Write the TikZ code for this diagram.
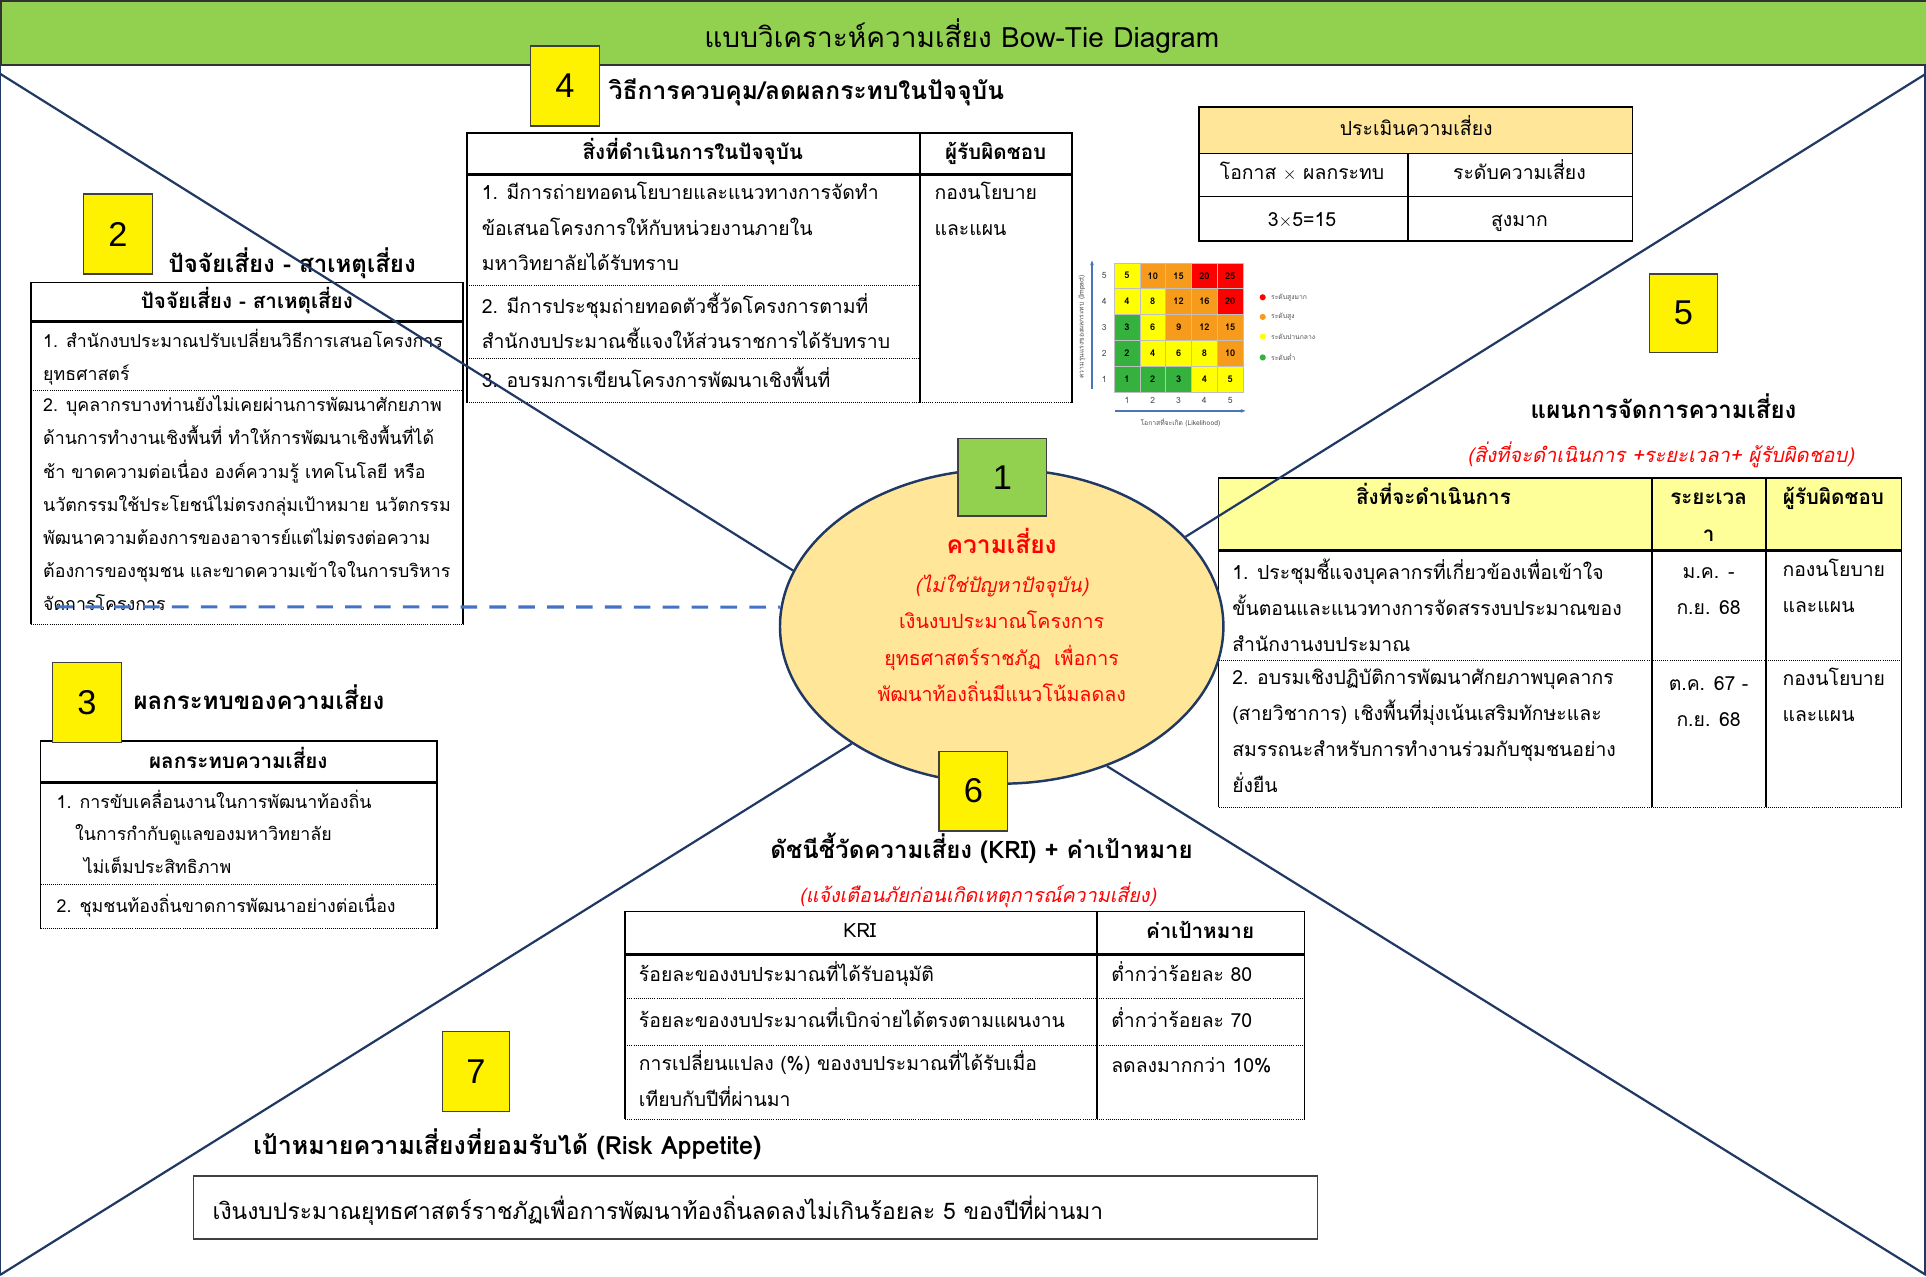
\documentclass[tikz,border=0pt]{standalone}
\usepackage{fontspec}
\setmainfont[Script=Thai]{Loma}
\newfontfamily\numfont{Liberation Sans}
\usetikzlibrary{shapes.geometric,arrows.meta}

\definecolor{bargreen}{HTML}{92D050}
\definecolor{navy}{HTML}{203864}
\definecolor{riskfill}{HTML}{FFE699}
\definecolor{planfill}{HTML}{FFFF99}
\definecolor{dashblue}{HTML}{4472C4}
\definecolor{axisblue}{HTML}{4A76B8}
\definecolor{riskred}{HTML}{FF0000}
\definecolor{mG}{HTML}{35B23D}
\definecolor{mY}{HTML}{FFFF00}
\definecolor{mO}{HTML}{F79B1D}
\definecolor{mR}{HTML}{FF0000}

\begin{document}
\begin{tikzpicture}[x=1pt, y=-1pt,
  numbox/.style={draw=black!75, line width=1pt, fill=yellow, minimum width=56pt, minimum height=65pt, inner sep=0pt, font=\numfont\fontsize{28}{28}\selectfont},
  heading/.style={anchor=base west, inner sep=0pt, font=\bfseries\fontsize{19.6}{22}\selectfont},
  redsub/.style={anchor=base, inner sep=0pt, text=riskred, font=\itshape\fontsize{16}{20}\selectfont},
  colhead/.style={anchor=base, inner sep=0pt, font=\bfseries\fontsize{16.8}{20}\selectfont},
  cell/.style={anchor=north west, align=left, inner sep=0pt, font=\fontsize{15.8}{#1}\selectfont, execute at begin node={\rule{0pt}{18pt}}},
  cell/.default=29,
  smallcell/.style={cell=#1, font=\fontsize{14.5}{#1}\selectfont},
  word/.style={anchor=base, inner sep=0pt, font=\fontsize{15.8}{18}\selectfont},
  redword/.style={anchor=base, inner sep=0pt, text=riskred, font=\fontsize{16}{20}\selectfont},
  border/.style={line width=1.5pt},
  headrule/.style={line width=2.5pt},
  dotrule/.style={densely dotted, line width=0.7pt},
  mcell/.style={draw=black!25, line width=0.4pt, minimum size=21pt, inner sep=0pt, font=\bfseries\fontsize{7.5}{8}\selectfont},
  tiny/.style={inner sep=0pt, text=black!70, font=\fontsize{5.5}{6}\selectfont},
  dot/.style={circle, inner sep=0pt, minimum size=5pt}
]
\useasboundingbox (0,0) rectangle (1568,1039);

% frame and title bar
\coordinate (ftl) at (0,60);
\coordinate (ftr) at (1568,60);
\coordinate (fbl) at (0,1038);
\coordinate (fbr) at (1568,1038);
\draw[navy, line width=1.5pt] (0,52) -- (fbl) (1567,52) -- (1567,1038);
\node[draw=black!80, line width=1.5pt, fill=bargreen, minimum width=1568pt, minimum height=52pt, anchor=north west, inner sep=0pt] (bar) at (0,0) {};
\node[anchor=base, inner sep=0pt, font=\fontsize{22.8}{26}\selectfont] (title) at (783,39) {แบบวิเคราะห์ความเสี่ยง Bow-Tie Diagram};

% 4 current controls
\node[heading, font=\bfseries\fontsize{20}{22}\selectfont] (head4) at (495.5,81) {วิธีการควบคุม/ลดผลกระทบในปัจจุบัน};
\draw[border] (380,328) -- (380,108) -- (873,108) -- (873,328);
\draw[headrule] (380,142) -- (873,142);
\draw[border] (749,108) -- (749,328);
\draw[dotrule] (380,232) -- (749,232) (380,292) -- (749,292) (380,328) -- (873,328);
\node[colhead] (h4a) at (564,130) {สิ่งที่ดำเนินการในปัจจุบัน};
\node[colhead] (h4b) at (810.6,130) {ผู้รับผิดชอบ};
\node[cell] (c4a) at (392,148) {1. มีการถ่ายทอดนโยบายและแนวทางการจัดทำ\\ข้อเสนอโครงการให้กับหน่วยงานภายใน\\มหาวิทยาลัยได้รับทราบ};
\node[cell] (c4b) at (392,238) {2. มีการประชุมถ่ายทอดตัวชี้วัดโครงการตามที่\\สำนักงบประมาณชี้แจงให้ส่วนราชการได้รับทราบ};
\node[cell] (c4c) at (392,297) {3. อบรมการเขียนโครงการพัฒนาเชิงพื้นที่};
\node[cell] (c4d) at (760.6,148) {กองนโยบาย\\และแผน};

% 2 causes
\node[heading] (head2) at (137,222) {ปัจจัยเสี่ยง - สาเหตุเสี่ยง};
\draw[border] (25,508) -- (25,230) -- (377,230) -- (377,508);
\draw[headrule] (25,262) -- (377,262);
\draw[dotrule] (25,318) -- (377,318) (25,508) -- (377,508);
\node[colhead] (h2) at (201,251) {ปัจจัยเสี่ยง - สาเหตุเสี่ยง};
\node[smallcell=27] (c2a) at (35,267.6) {1. สำนักงบประมาณปรับเปลี่ยนวิธีการเสนอโครงการ\\ยุทธศาสตร์};
\node[smallcell=27] (c2b) at (35,322) {2. บุคลากรบางท่านยังไม่เคยผ่านการพัฒนาศักยภาพ\\ด้านการทำงานเชิงพื้นที่ ทำให้การพัฒนาเชิงพื้นที่ได้\\ช้า ขาดความต่อเนื่อง องค์ความรู้ เทคโนโลยี หรือ\\นวัตกรรมใช้ประโยชน์ไม่ตรงกลุ่มเป้าหมาย นวัตกรรม\\พัฒนาความต้องการของอาจารย์แต่ไม่ตรงต่อความ\\ต้องการของชุมชน และขาดความเข้าใจในการบริหาร\\จัดการโครงการ};

% 3 consequences
\node[heading] (head3) at (108.5,577.6) {ผลกระทบของความเสี่ยง};
\draw[border] (33,756) -- (33,603) -- (356,603) -- (356,756);
\draw[headrule] (33,637) -- (356,637);
\draw[dotrule] (33,720) -- (356,720) (33,756) -- (356,756);
\node[colhead] (h3) at (194,626) {ผลกระทบความเสี่ยง};
\node[smallcell=26.5] (c3a) at (46,643) {1. การขับเคลื่อนงานในการพัฒนาท้องถิ่น\\\hspace*{15pt}ในการกำกับดูแลของมหาวิทยาลัย\\\hspace*{22pt}ไม่เต็มประสิทธิภาพ};
\node[smallcell=26.5] (c3b) at (46,725) {2. ชุมชนท้องถิ่นขาดการพัฒนาอย่างต่อเนื่อง};

% risk assessment
\fill[riskfill] (976,87) rectangle (1329,125);
\draw[border] (976,87) rectangle (1329,196);
\draw[border] (976,125) -- (1329,125) (976,160) -- (1329,160) (1146,125) -- (1146,196);
\node[word] (ra1) at (1153,110.5) {ประเมินความเสี่ยง};
\node[word] (ra2) at (1060,146.5) {โอกาส $\times$ ผลกระทบ};
\node[word] (ra3) at (1237,146.5) {ระดับความเสี่ยง};
\node[word] (ra4) at (1060,184) {3$\times$5=15};
\node[word] (ra5) at (1237,184) {สูงมาก};

% risk matrix
\foreach \r/\cols in {5/{mY,mO,mO,mR,mR},4/{mY,mY,mO,mO,mR},3/{mG,mY,mO,mO,mO},2/{mG,mY,mY,mY,mO},1/{mG,mG,mG,mY,mY}}{
  \foreach \k [count=\c] in \cols {
    \pgfmathtruncatemacro\v{\c*\r}
    \node[mcell, fill=\k] (m\r\c) at ({907+(\c-0.5)*21},{214+(5.5-\r)*21}) {\v};
  }
  \node[tiny, font=\fontsize{7}{8}\selectfont] (ry\r) at (899,{214+(5.5-\r)*21}) {\r};
  \node[tiny, font=\fontsize{7}{8}\selectfont] (cx\r) at ({907+(\r-0.5)*21},326) {\r};
}
\coordinate (ya) at (889,317);
\coordinate (yb) at (889,212);
\coordinate (xa) at (908,334.5);
\coordinate (xb) at (1014,334.5);
\draw[axisblue, line width=1.3pt, -{Stealth[length=4pt]}] (ya) -- (yb);
\draw[axisblue, line width=1.3pt, -{Stealth[length=4pt]}] (xa) -- (xb);
\node[tiny] (xlab) at (961,344) {โอกาสที่จะเกิด (Likelihood)};
\node[tiny, rotate=90] (ylab) at (881,266) {ความรุนแรงของผลกระทบ (Impact)};
\node[dot, fill=mR] (lg1) at (1028,242) {};
\node[dot, fill=mO] (lg2) at (1028,258) {};
\node[dot, fill=mY] (lg3) at (1028,274) {};
\node[dot, fill=mG] (lg4) at (1028,291) {};
\node[tiny, anchor=west] at ([xshift=4pt]lg1.east) {ระดับสูงมาก};
\node[tiny, anchor=west] at ([xshift=4pt]lg2.east) {ระดับสูง};
\node[tiny, anchor=west] at ([xshift=4pt]lg3.east) {ระดับปานกลาง};
\node[tiny, anchor=west] at ([xshift=4pt]lg4.east) {ระดับต่ำ};

% 5 treatment plan
\node[heading] (head5) at (1246,341) {แผนการจัดการความเสี่ยง};
\node[redsub, font=\itshape\fontsize{16.4}{20}\selectfont] (sub5) at (1352,376.5) {(สิ่งที่จะดำเนินการ +ระยะเวลา+ ผู้รับผิดชอบ)};
\fill[planfill] (992,389) rectangle (1548,448);
\draw[border] (992,657) -- (992,389) -- (1548,389) -- (1548,657);
\draw[headrule] (992,448) -- (1548,448);
\draw[border] (1345,389) -- (1345,657) (1438,389) -- (1438,657);
\draw[dotrule] (992,538) -- (1548,538) (992,657) -- (1548,657);
\node[colhead] (h5a) at (1167,410.5) {สิ่งที่จะดำเนินการ};
\node[cell=30, align=center, anchor=north, font=\bfseries\fontsize{16.8}{30}\selectfont] (h5b) at (1391,401) {ระยะเวล\\า};
\node[colhead] (h5c) at (1492.6,410.5) {ผู้รับผิดชอบ};
\node[cell=29.3] (c5a) at (1003,455) {1. ประชุมชี้แจงบุคลากรที่เกี่ยวข้องเพื่อเข้าใจ\\ขั้นตอนและแนวทางการจัดสรรงบประมาณของ\\สำนักงานงบประมาณ};
\node[cell=29.3, align=center, anchor=north] (c5b) at (1391,462) {ม.ค. -\\ก.ย. 68};
\node[cell=29.3] (c5c) at (1451,455) {กองนโยบาย\\และแผน};
\node[cell=29.3] (c5d) at (1003,544) {2. อบรมเชิงปฏิบัติการพัฒนาศักยภาพบุคลากร\\(สายวิชาการ) เชิงพื้นที่มุ่งเน้นเสริมทักษะและ\\สมรรถนะสำหรับการทำงานร่วมกับชุมชนอย่าง\\ยั่งยืน};
\node[cell=29.3, align=center, anchor=north] (c5e) at (1391,551) {ต.ค. 67 -\\ก.ย. 68};
\node[cell=29.3] (c5f) at (1451,544) {กองนโยบาย\\และแผน};

% 6 KRI
\node[heading] (head6) at (627,698.6) {ดัชนีชี้วัดความเสี่ยง (KRI) + ค่าเป้าหมาย};
\node[redsub] (sub6) at (796,734.5) {(แจ้งเตือนภัยก่อนเกิดเหตุการณ์ความเสี่ยง)};
\draw[border] (509,911) -- (509,742) -- (1062,742) -- (1062,911);
\draw[headrule] (509,777) -- (1062,777);
\draw[border] (893,742) -- (893,911);
\draw[dotrule] (509,813) -- (1062,813) (509,851) -- (1062,851) (509,911) -- (1062,911);
\node[colhead, font=\fontsize{16}{20}\selectfont] (h6a) at (700,763) {KRI};
\node[colhead] (h6b) at (977,764) {ค่าเป้าหมาย};
\node[cell] (c6a) at (520,781) {ร้อยละของงบประมาณที่ได้รับอนุมัติ};
\node[cell] (c6b) at (904.5,781) {ต่ำกว่าร้อยละ 80};
\node[cell] (c6c) at (520,818) {ร้อยละของงบประมาณที่เบิกจ่ายได้ตรงตามแผนงาน};
\node[cell] (c6d) at (904.5,818) {ต่ำกว่าร้อยละ 70};
\node[cell=29.5] (c6e) at (520,855) {การเปลี่ยนแปลง (\%) ของงบประมาณที่ได้รับเมื่อ\\เทียบกับปีที่ผ่านมา};
\node[cell] (c6f) at (904.5,855) {ลดลงมากกว่า 10\%};

% 7 risk appetite
\node[heading, font=\bfseries\fontsize{20.4}{22}\selectfont] (head7) at (206,940) {เป้าหมายความเสี่ยงที่ยอมรับได้ (Risk Appetite)};
\node[draw=black!75, line width=1.2pt, minimum width=915pt, minimum height=51.4pt, anchor=north west, inner sep=0pt] (appbox) at (157,956.6) {};
\node[anchor=base west, inner sep=0pt, font=\fontsize{18.6}{20}\selectfont] (apptext) at (173,992.5) {เงินงบประมาณยุทธศาสตร์ราชภัฏเพื่อการพัฒนาท้องถิ่นลดลงไม่เกินร้อยละ 5 ของปีที่ผ่านมา};

% 1 the risk
\node[ellipse, draw=navy, line width=2pt, fill=riskfill, minimum width=361pt, minimum height=256pt, inner sep=0pt] (risk) at (815.5,510) {};
\draw[navy, line width=1.8pt] (ftl) -- (risk.165);
\draw[navy, line width=1.8pt] (risk.307) -- (fbr);
\draw[navy, line width=1.8pt] (ftr) -- (risk.26);
\draw[navy, line width=1.8pt] (risk.218) -- (fbl);
\coordinate (dashl) at (46,494);
\draw[dashblue, line width=2.5pt, dash pattern=on 13.5pt off 10pt] (dashl) -- (risk.175);
\node[redword, font=\bfseries\fontsize{20}{24}\selectfont] (rt1) at (815.5,451) {ความเสี่ยง};
\node[redword, font=\itshape\fontsize{16}{20}\selectfont] (rt2) at (815.5,482.5) {(ไม่ใช่ปัญหาปัจจุบัน)};
\node[redword] (rt3) at (815.5,512) {เงินงบประมาณโครงการ};
\node[redword] (rt4) at (815.5,541.5) {ยุทธศาสตร์ราชภัฏ\ \ เพื่อการ};
\node[redword] (rt5) at (815.5,571.5) {พัฒนาท้องถิ่นมีแนวโน้มลดลง};

% number boxes
\node[numbox, fill=bargreen, minimum width=72pt, minimum height=63pt] (n1) at (816,388.5) {1};
\node[numbox] (n2) at (96,190.5) {2};
\node[numbox] (n3) at (70.8,572) {3};
\node[numbox] (n4) at (460,70) {4};
\node[numbox, minimum width=55pt, minimum height=64pt] (n5) at (1370.5,255) {5};
\node[numbox] (n6) at (792.5,644) {6};
\node[numbox, minimum width=55pt] (n7) at (387.5,872.5) {7};
\end{tikzpicture}
\end{document}
